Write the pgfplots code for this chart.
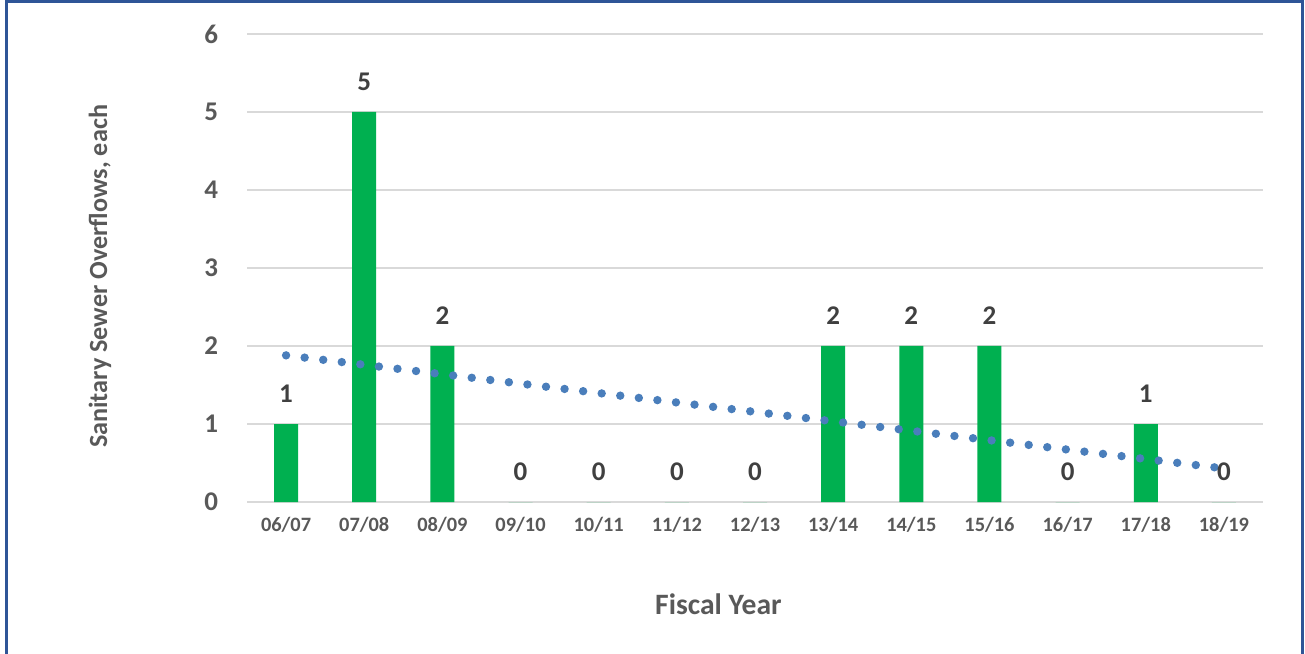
\documentclass[border=0pt]{standalone}
\usepackage{fontspec}
\setmainfont{Carlito}
\usepackage{pgfplots}
\pgfplotsset{compat=1.18}
\definecolor{barg}{HTML}{00B050}
\definecolor{trend}{HTML}{4A7EBB}
\definecolor{gridc}{HTML}{D9D9D9}
\definecolor{txt}{HTML}{595959}
\definecolor{lbl}{HTML}{404040}
\definecolor{frame}{HTML}{2F5597}
\begin{document}
\begin{tikzpicture}
\useasboundingbox (0,0) rectangle (652.5pt,326.5pt);
\draw[frame, line width=1.5pt] (3pt,-5pt) -- (3pt,325.75pt) -- (651.25pt,325.75pt) -- (651.25pt,-5pt);
\begin{axis}[
  at={(123.5pt,75.5pt)}, anchor=south west,
  scale only axis, width=508pt, height=234pt,
  ybar, bar width=12pt,
  xmin=-0.5, xmax=12.5, ymin=0, ymax=6,
  xtick=data,
  xticklabels={06/07,07/08,08/09,09/10,10/11,11/12,12/13,13/14,14/15,15/16,16/17,17/18,18/19},
  ytick={0,1,2,3,4,5,6},
  ymajorgrids, grid style={gridc, line width=1pt},
  axis line style={draw=none},
  major tick length=0pt,
  /pgf/number format/assume math mode=true,
  yticklabel style={font=\fontsize{13.5}{13.5}\selectfont\bfseries, text=txt, anchor=east, xshift=-11pt},
  xticklabel style={font=\fontsize{10.2}{10.2}\selectfont\bfseries, text=txt, yshift=-4pt},
  xlabel={Fiscal Year}, ylabel={Sanitary Sewer Overflows, each},
  xlabel style={at={(axis description cs:0.464,-0.218)}, anchor=center, font=\fontsize{14.8}{14.8}\selectfont\bfseries, text=txt},
  ylabel style={at={(axis description cs:-0.1447,0.482)}, anchor=center, font=\fontsize{13.1}{13.1}\selectfont\bfseries, text=txt},
  nodes near coords,
  every node near coord/.append style={font=\fontsize{13.5}{13.5}\selectfont\bfseries, text=lbl, anchor=center, yshift=15pt},
  clip=false,
]
\addplot[fill=barg, draw=none] coordinates {(0,1) (1,5) (2,2) (3,0) (4,0) (5,0) (6,0) (7,2) (8,2) (9,2) (10,0) (11,1) (12,0)};
\addplot[sharp plot, trend, line width=4.2pt, line cap=round, dash pattern=on 0pt off 9.35pt, nodes near coords={}] coordinates {(0,1.88) (12,0.43)};
\end{axis}
\end{tikzpicture}
\end{document}
